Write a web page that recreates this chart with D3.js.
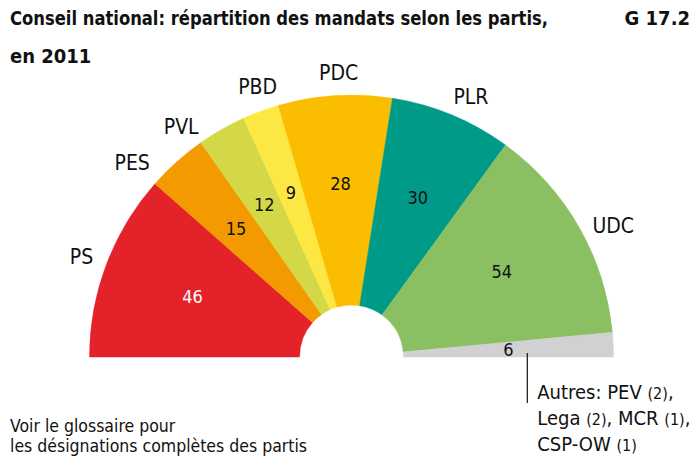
<!DOCTYPE html>
<html><head><meta charset="utf-8">
<script src="https://cdn.jsdelivr.net/npm/d3@7"></script>
<style>
html,body{margin:0;padding:0;background:#fff;}
svg{display:block;}
text{font-family:"Liberation Sans Narrow","DejaVu Sans Condensed","Arial Narrow",sans-serif;fill:#111;}
</style></head>
<body>
<svg id="c" width="697" height="466"></svg>
<script>
const parties = ["PS","PES","PVL","PBD","PDC","PLR","UDC","Autres"];
const seats = [46,15,12,9,28,30,54,6];
const colors = ["#e3222a","#f29a00","#d4d846","#fde843","#fbbd00","#009a88","#8abf62","#d1d1d3"];
const otherNames = ["PEV","Lega","MCR","CSP-OW"];
const otherSeats = [2,2,1,1];
const titleLines = ["Conseil national: répartition des mandats selon les partis,","en 2011"];
const chartId = "G 17.2";
const noteLines = ["Voir le glossaire pour","les désignations complètes des partis"];

// layout
const cx = 351.5, cy = 357, rOuter = 262, rInner = 52;
const labelShiftDeg = [-0.3,-6.6,-6.7,1.1,1.0,2.1,3.0,0];
const labelR = [288,293,287,286,285,287,293,0];
const valueR = [170,173,176,175,174,173,173,157];

const svg = d3.select("#c");
const toRad = d => d*Math.PI/180;
const pie = d3.pie().sort(null).startAngle(-Math.PI/2).endAngle(Math.PI/2);
const arcs = pie(seats);
const arc = d3.arc().innerRadius(rInner).outerRadius(rOuter);
const polar = (a, r) => [cx + r*Math.sin(a), cy - r*Math.cos(a)];

const g = svg.append("g").attr("transform",`translate(${cx},${cy})`);
g.selectAll("path").data(arcs).join("path")
  .attr("d", arc).attr("fill",(d,i)=>colors[i]).attr("stroke",(d,i)=>colors[i]).attr("stroke-width",0.5);

// value labels
arcs.forEach((d,i)=>{
  const mid = (d.startAngle+d.endAngle)/2;
  const [x,y] = polar(mid, valueR[i]);
  svg.append("text").attr("x",x).attr("y",y).attr("dy","0.36em")
    .attr("text-anchor","middle").attr("font-size",18)
    .style("fill", i===0 ? "#fff" : "#111").text(seats[i]);
});

// party labels
arcs.forEach((d,i)=>{
  if(parties[i]==="Autres") return;
  const mid = (d.startAngle+d.endAngle)/2 + toRad(labelShiftDeg[i]);
  const [x,y] = polar(mid, labelR[i]);
  svg.append("text").attr("x",x).attr("y",y).attr("dy","0.36em")
    .attr("text-anchor","middle").attr("font-size",21).text(parties[i]);
});

// leader line for Autres
const oth = arcs[arcs.length-1];
const [lx] = polar((oth.startAngle+oth.endAngle)/2, 176);
svg.append("line").attr("x1",lx).attr("x2",lx).attr("y1",cy-4).attr("y2",cy+46)
  .attr("stroke","#111").attr("stroke-width",1.2);

// Autres text
const othLines = [
  [["Autres: ",0],[otherNames[0]+" ",0],[`(${otherSeats[0]})`,1],[",",0]],
  [[otherNames[1]+" ",0],[`(${otherSeats[1]})`,1],[", "+otherNames[2]+" ",0],[`(${otherSeats[2]})`,1],[",",0]],
  [[otherNames[3]+" ",0],[`(${otherSeats[3]})`,1]]
];
othLines.forEach((parts,j)=>{
  const t = svg.append("text").attr("x",lx+10).attr("y",399+j*26).attr("font-size",20);
  parts.forEach(([s,small])=>{
    t.append("tspan").attr("font-size", small?16:20).text(s);
  });
});

// title
svg.append("text").attr("x",10).attr("y",25).attr("font-size",20).attr("font-weight","bold")
  .attr("textLength",538).attr("lengthAdjust","spacingAndGlyphs").text(titleLines[0]);
svg.append("text").attr("x",10).attr("y",63).attr("font-size",20).attr("font-weight","bold").text(titleLines[1]);
svg.append("text").attr("x",690).attr("y",25).attr("font-size",20).attr("font-weight","bold")
  .attr("text-anchor","end").text(chartId);

// note
noteLines.forEach((s,j)=>{
  svg.append("text").attr("x",10).attr("y",432+j*19.5).attr("font-size",17.5).text(s);
});
</script>
</body></html>
